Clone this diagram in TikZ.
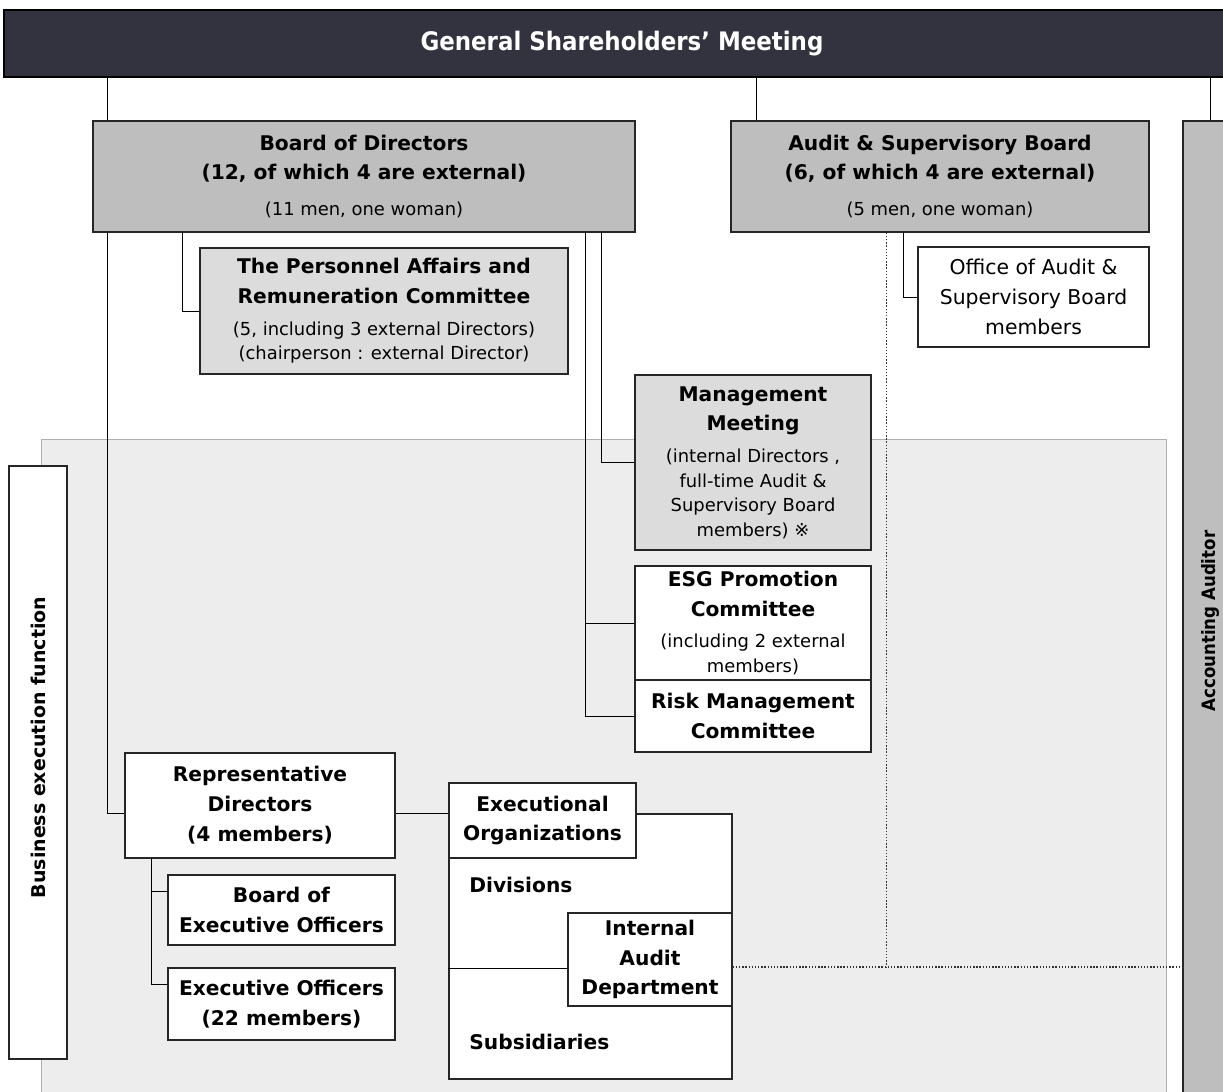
\documentclass[tikz,border=0pt]{standalone}
\usepackage{fontspec}
\setmainfont{DejaVu Sans}
\newfontfamily\condfont{DejaVu Sans Condensed}
\usepackage{tikz}
\usetikzlibrary{calc}
\definecolor{gsmdark}{RGB}{51,50,63}
\definecolor{boardgray}{RGB}{190,190,190}
\definecolor{comgray}{RGB}{220,220,220}
\definecolor{bggray}{RGB}{237,237,237}
\definecolor{bgline}{RGB}{175,175,175}
\newcommand{\titlefont}{\fontsize{11.5}{17}\selectfont\bfseries}
\newcommand{\subtext}[1]{{\fontsize{10.2}{14}\selectfont\mdseries #1}}
\tikzset{
    gsmbox/.style = {rectangle, draw=black, line width=0.8pt, fill=gsmdark, text=white, font=\condfont\fontsize{14.5}{17}\selectfont\bfseries},
    boardbox/.style = {rectangle, draw=black!85, line width=0.8pt, fill=boardgray, align=center, font=\titlefont, inner sep=2pt},
    combox/.style = {rectangle, draw=black!85, line width=0.8pt, fill=comgray, align=center, font=\titlefont, inner sep=2pt},
    plainbox/.style = {rectangle, draw=black!85, line width=0.8pt, fill=white, align=center, font=\titlefont, inner sep=2pt},
    sidebox/.style = {rectangle, draw=black!85, line width=0.8pt, rotate=90, font=\fontsize{10.8}{13}\selectfont\bfseries},
    label/.style = {anchor=west, inner sep=0pt, font=\titlefont},
    execbg/.style = {fill=bggray, draw=bgline, line width=0.5pt},
    link/.style = {draw=black, line width=0.5pt},
    dotlink/.style = {draw=black!80, densely dotted, line width=0.8pt}
}

\begin{document}
\begin{tikzpicture}
    \useasboundingbox (0, 0) rectangle (24.46, 21.82);
    \draw [execbg] (0.82, 13.04) rectangle (23.32, -0.5);

    \node (gsm) [gsmbox, minimum width=24.72cm, minimum height=1.34cm] at (12.44, 20.95) {General Shareholders’ Meeting};

    \node (bod) [boardbox, minimum width=10.84cm, minimum height=2.22cm] at (7.28, 18.29)
        {Board of Directors\\(12, of which 4 are external)\\[3.5pt]\subtext{(11 men, one woman)}};
    \node (asb) [boardbox, minimum width=8.36cm, minimum height=2.22cm] at (18.80, 18.29)
        {Audit \& Supervisory Board\\(6, of which 4 are external)\\[3.5pt]\subtext{(5 men, one woman)}};
    \node (auditor) [sidebox, fill=boardgray, minimum width=20cm, minimum height=1.08cm] at (24.20, 9.40)
        {\condfont\fontsize{10.5}{13}\selectfont\bfseries Accounting Auditor};

    \node (pac) [combox, minimum width=7.36cm, minimum height=2.52cm] at (7.68, 15.60)
        {The Personnel Affairs and\\Remuneration Committee\\[1pt]\subtext{(5, including 3 external Directors)}\\[-3pt]\subtext{(chairperson : external Director)}};
    \node (office) [plainbox, minimum width=4.62cm, minimum height=2.0cm, font=\fontsize{11.6}{17}\selectfont] at (20.67, 15.88)
        {Office of Audit \&\\Supervisory Board\\members};

    \node (mgmt) [combox, minimum width=4.72cm, minimum height=3.5cm] at (15.06, 12.57)
        {Management\\Meeting\\[1pt]\subtext{(internal Directors ,}\\[-3pt]\subtext{full-time Audit \&}\\[-3pt]\subtext{Supervisory Board}\\[-3pt]\subtext{members) ※}};
    \node (esg) [plainbox, minimum width=4.72cm, minimum height=2.28cm] at (15.06, 9.36)
        {ESG Promotion\\Committee\\[1pt]\subtext{(including 2 external}\\[-3pt]\subtext{members)}};
    \node (risk) [plainbox, minimum width=4.72cm, minimum height=1.44cm] at (15.06, 7.50)
        {Risk Management\\Committee};

    \node (bef) [sidebox, fill=white, minimum width=11.86cm, minimum height=1.16cm] at (0.76, 6.57)
        {\hspace*{0.6cm}Business execution function};

    \node (repdir) [plainbox, minimum width=5.4cm, minimum height=2.1cm] at (5.20, 5.71)
        {Representative\\Directors\\(4 members)};
    \node (beo) [plainbox, minimum width=4.54cm, minimum height=1.4cm] at (5.63, 3.62)
        {Board of\\Executive Officers};
    \node (execoff) [plainbox, minimum width=4.54cm, minimum height=1.44cm] at (5.63, 1.74)
        {Executive Officers\\(22 members)};

    \node (orgframe) [plainbox, minimum width=5.66cm, minimum height=5.3cm] at (11.81, 2.89) {};
    \node (execorg) [plainbox, minimum width=3.74cm, minimum height=1.5cm] at (10.85, 5.41)
        {Executional\\Organizations};
    \node (iad) [plainbox, minimum width=3.28cm, minimum height=1.86cm] at (13.00, 2.63)
        {Internal\\Audit\\Department};
    \node (divisions) [label] at (9.38, 4.12) {Divisions};
    \node (subs) [label] at (9.38, 0.98) {Subsidiaries};

    \coordinate (bodleft) at ([xshift=0.3cm]bod.south west);
    \coordinate (bodpac) at ([xshift=1.8cm]bod.south west);
    \coordinate (bodmm) at ([xshift=-0.68cm]bod.south east);
    \coordinate (bodcom) at ([xshift=-1.0cm]bod.south east);
    \coordinate (asbtop) at ([xshift=0.52cm]asb.north west);
    \coordinate (asboff) at ([xshift=3.46cm]asb.south west);
    \coordinate (asbdot) at ([xshift=3.12cm]asb.south west);
    \coordinate (repsub) at ([xshift=0.54cm]repdir.south west);
    \coordinate (reprt) at ([yshift=-0.15cm]repdir.east);
    \coordinate (iadout) at ([yshift=-0.15cm]iad.east);
    \coordinate (iaddiv) at ([yshift=-0.17cm]iad.west);

    \draw [link] (bodleft |- gsm.south) -- (bodleft |- bod.north);
    \draw [link] (asbtop |- gsm.south) -- (asbtop);
    \draw [link] (auditor.east |- gsm.south) -- (auditor.east);

    \draw [link] (bodpac) |- (pac.west);
    \draw [link] (bodmm) |- (mgmt.west);
    \draw [link] (bodcom) |- (esg.west);
    \draw [link] (bodcom) |- (risk.west);
    \draw [link] (asboff) |- (office.west);

    \draw [link] (bodleft) |- ([yshift=-0.15cm]repdir.west);
    \draw [link] (reprt) -- (reprt -| execorg.west);
    \draw [link] (repsub) |- ([yshift=0.38cm]beo.west);
    \draw [link] (repsub) |- ([yshift=0.4cm]execoff.west);
    \draw [link] (iaddiv) -- (iaddiv -| orgframe.west);

    \draw [dotlink] (asbdot) -- (asbdot |- iadout);
    \draw [dotlink] (iadout) -- (iadout -| auditor.north);
\end{tikzpicture}
\end{document}
